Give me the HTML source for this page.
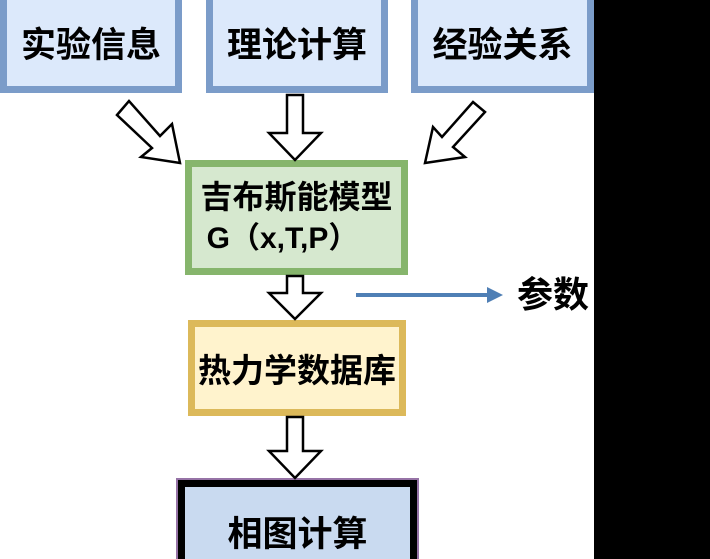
<!DOCTYPE html>
<html style="overflow:hidden;width:710px;height:559px"><head><meta charset="utf-8"><style>
body{margin:0;width:710px;height:559px;overflow:hidden;background:#fff;position:relative;font-family:"Liberation Sans","Noto Sans CJK SC",sans-serif}
.b{position:absolute;box-sizing:border-box;display:flex;align-items:center;justify-content:center;font-weight:bold;color:#000}
</style></head><body>
<div class="b" style="left:0;top:-8px;width:182px;height:101px;border:7px solid #7b9cc9;background:#dce9fb;font-size:35px">实验信息</div>
<div class="b" style="left:206px;top:-8px;width:182px;height:101px;border:7px solid #7b9cc9;background:#dce9fb;font-size:35px">理论计算</div>
<div class="b" style="left:411px;top:-8px;width:183px;height:101px;border:7px solid #7b9cc9;background:#dce9fb;font-size:35px">经验关系</div>
<div class="b" style="left:185px;top:160px;width:223px;height:115px;border:7px solid #86b56c;background:#d6e8cf;font-size:32px;flex-direction:column;line-height:42px"><div>吉布斯能模型</div><div style="font-size:30px;margin-right:28px">G（x,T,P）</div></div>
<div class="b" style="left:188px;top:320px;width:218px;height:96px;border:7px solid #dcb95a;background:#fff3cd;font-size:33px">热力学数据库</div>
<div class="b" style="left:176px;top:478px;width:243px;height:81px;border:2px solid #9673a6;border-bottom:none;background:#c9daf0;font-size:35px;padding-top:26px;align-items:flex-start;overflow:hidden"><div style="position:absolute;left:0;top:0;right:0;bottom:-10px;border:7px solid #000"></div>相图计算</div>
<div style="position:absolute;left:517px;top:274px;font-size:36px;font-weight:bold;color:#000;line-height:42px">参数</div>
<div style="position:absolute;left:594px;top:0;width:116px;height:559px;background:#000"></div>
<svg width="710" height="559" style="position:absolute;left:0;top:0">
<g fill="#fff" stroke="#000" stroke-width="2.5" stroke-linejoin="miter">
<polygon points="287,95 303,95 303,133 321,133 295,160 269,133 287,133"/>
<polygon points="287,276 303,276 303,293 321,293 295,319 269,293 287,293"/>
<polygon points="287,417 303,417 303,451 321,451 295,478 269,451 287,451"/>
<polygon points="117,115 129,101 160,136 172,124 180,163 141,157 152,148"/>
<polygon points="473,102 485,112 453,147 465,157 425,163 433,127 442,137"/>
</g>
<line x1="356" y1="295" x2="490" y2="295" stroke="#4f7fb5" stroke-width="4"/>
<polygon points="487,287 503,295 487,303" fill="#4f7fb5"/>
</svg>
</body></html>
